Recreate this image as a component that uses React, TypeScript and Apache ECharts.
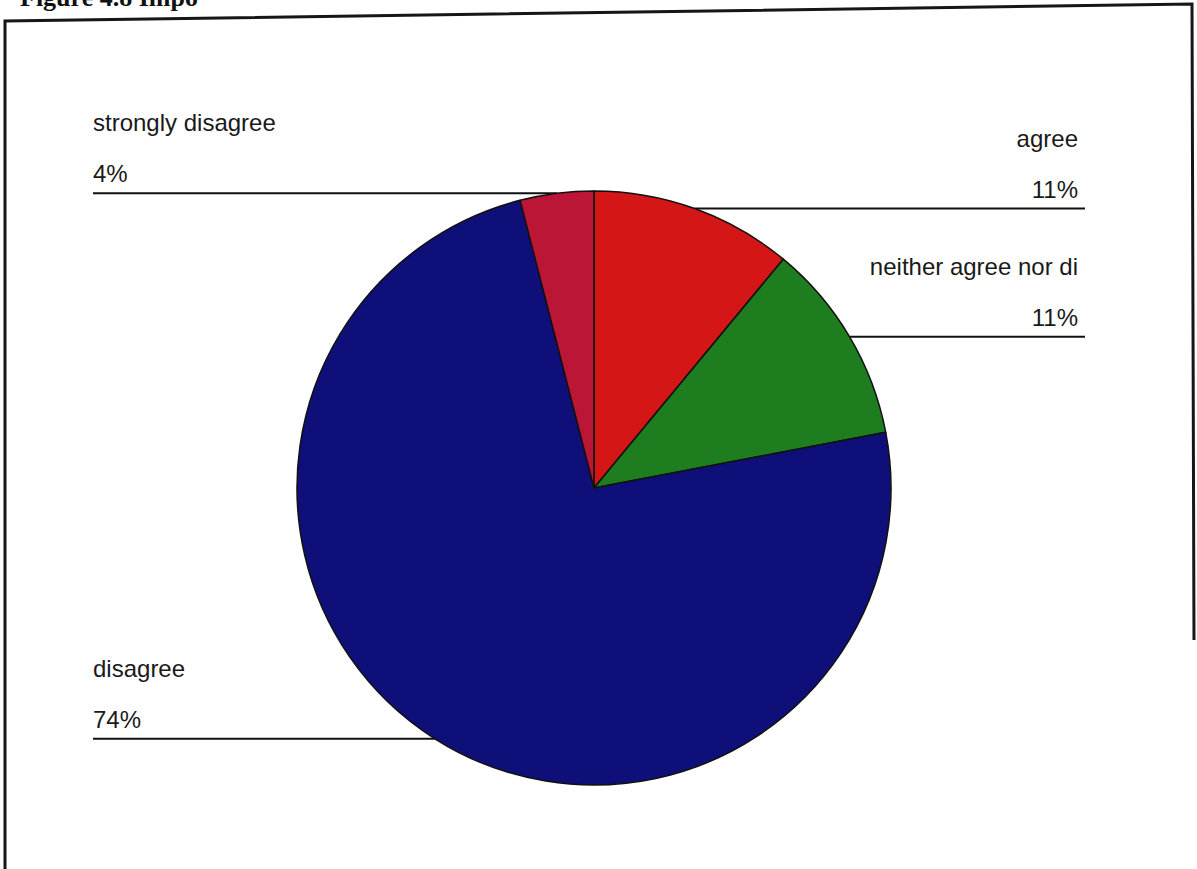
import React, { useEffect, useRef } from "react";
import * as echarts from "echarts";

const categories = ["agree", "neither agree nor di", "disagree", "strongly disagree"];
const values = [11, 11, 74, 4];
const colors = ["#d41616", "#1e7d1e", "#0f0f7a", "#bb1635"];
const titleText = "Figure 4.8 Impo";

export default function App() {
  const ref = useRef<HTMLDivElement>(null);
  useEffect(() => {
    document.body.style.margin = "0";
    const chart = echarts.init(ref.current!, null, { renderer: "svg" });
    const data = categories.map((name, i) => ({
      name,
      value: values[i],
      itemStyle: { color: colors[i] },
    }));
    chart.setOption({
      animation: false,
      backgroundColor: "#ffffff",
      graphic: [
        {
          type: "text",
          left: 20,
          top: -16,
          style: {
            text: titleText,
            fontFamily: "Liberation Serif",
            fontWeight: "bold",
            fontSize: 26,
            fill: "#111",
          },
        },
        {
          type: "polyline",
          shape: { points: [[5, 869], [5, 21], [1192, 4], [1194, 640]] },
          style: { stroke: "#161616", lineWidth: 3, fill: null },
        },
      ],
      series: [
        {
          type: "pie",
          center: [594, 488],
          radius: 297,
          startAngle: 90,
          clockwise: true,
          data,
          itemStyle: { borderColor: "#111", borderWidth: 1.5 },
          label: {
            show: true,
            position: "outside",
            formatter: "{b}\n{c}%",
            fontFamily: "Liberation Sans",
            fontSize: 24,
            lineHeight: 51,
            color: "#1a1a1a",
          },
          labelLine: {
            show: true,
            length: 0,
            length2: 10,
            smooth: false,
            lineStyle: { color: "#111", width: 2 },
          },
          labelLayout: (params: any) => {
            const pts = params.labelLinePoints;
            const p0 = pts ? pts[0] : [0, 0];
            const left = p0[0] < 594;
            if (left) {
              return {
                x: 93,
                y: p0[1] + 6,
                align: "left",
                verticalAlign: "bottom",
                labelLinePoints: [
                  [p0[0], p0[1]],
                  [p0[0], p0[1]],
                  [93, p0[1]],
                ],
              };
            }
            return {
              x: 1078,
              y: p0[1] + 6,
              align: "right",
              verticalAlign: "bottom",
              labelLinePoints: [
                [p0[0], p0[1]],
                [p0[0], p0[1]],
                [1085, p0[1]],
              ],
            };
          },
        },
      ],
    });
    return () => chart.dispose();
  }, []);
  return <div ref={ref} style={{ width: 1197, height: 869 }} />;
}
